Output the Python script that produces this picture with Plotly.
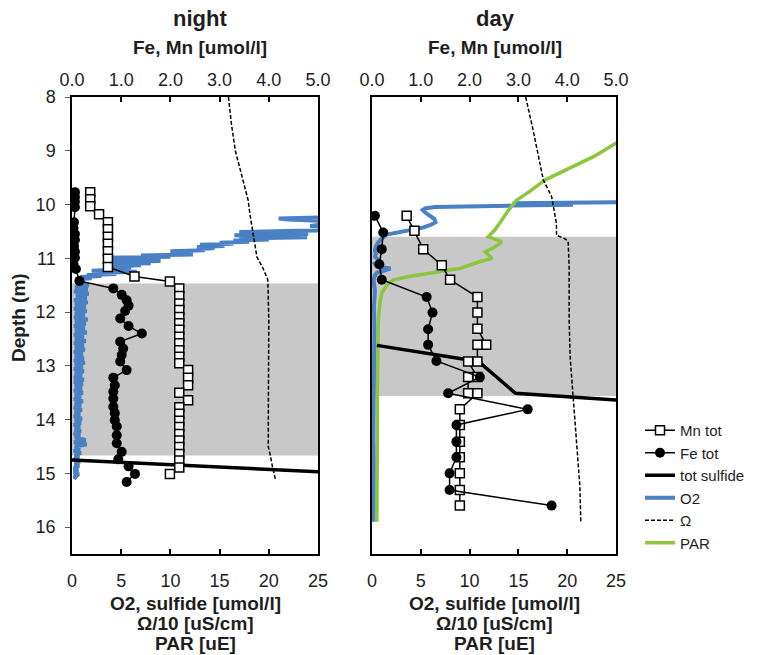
import plotly.graph_objects as go

# ---------------- data ----------------
# Night profile
mn_night_depth = [9.77, 9.90, 10.03, 10.18, 10.33, 10.46, 10.60, 10.73, 10.87, 11.01, 11.16,
                  11.34, 11.43, 11.56, 11.70, 11.84, 11.96, 12.09, 12.21, 12.33, 12.46, 12.58,
                  12.71, 12.83, 12.95, 13.08, 13.22, 13.36, 13.50, 13.64, 13.77, 13.89, 14.02,
                  14.14, 14.27, 14.39, 14.51, 14.64, 14.76, 14.89, 15.01]
mn_night = [0.37, 0.37, 0.37, 0.55, 0.73, 0.73, 0.73, 0.73, 0.73, 0.73, 0.73,
            1.27, 1.99, 2.18, 2.18, 2.18, 2.18, 2.18, 2.18, 2.18, 2.18, 2.18,
            2.18, 2.18, 2.18, 2.36, 2.36, 2.36, 2.18, 2.36, 2.18, 2.18, 2.18,
            2.18, 2.18, 2.18, 2.18, 2.18, 2.18, 2.18, 1.99]

fe_night_depth = [9.77, 9.86, 9.95, 10.05, 10.33, 10.44, 10.55, 10.66, 10.77, 10.88,
                  10.99, 11.10, 11.20, 11.42, 11.56, 11.68, 11.78, 11.88, 11.98, 12.12, 12.26,
                  12.40, 12.55, 12.68, 12.80, 12.92, 13.08, 13.22, 13.36, 13.48, 13.61, 13.76,
                  13.88, 14.01, 14.13, 14.29, 14.44, 14.60, 14.74, 14.87, 15.01, 15.16]
fe_night = [0.06, 0.06, 0.06, 0.06, 0.04, 0.03, 0.06, 0.06, 0.04, 0.06,
            0.06, 0.03, 0.08, 0.15, 0.84, 1.01, 1.11, 1.15, 1.08, 0.98, 1.15,
            1.42, 0.98, 1.04, 1.01, 0.98, 1.11, 0.84, 0.87, 0.84, 0.84, 0.84,
            0.87, 0.87, 0.91, 0.91, 0.91, 1.01, 0.94, 1.15, 1.28, 1.11]

sulfide_night_depth = [14.75, 14.86, 14.98]
sulfide_night = [0.0, 12.0, 26.0]

o2_night_depth = [10.18, 10.24, 10.26, 10.28, 10.30, 10.34, 10.38, 10.40, 10.42, 10.46,
                  10.49, 10.51, 10.53, 10.55, 10.57, 10.59, 10.61, 10.63, 10.65, 10.67,
                  10.69, 10.71, 10.73, 10.75, 10.77, 10.79, 10.81, 10.83, 10.85, 10.87,
                  10.89, 10.91, 10.93, 10.95, 10.97, 10.99, 11.01, 11.03, 11.05, 11.07,
                  11.09, 11.11, 11.13, 11.15, 11.17, 11.19, 11.21, 11.23, 11.25, 11.27,
                  11.29, 11.31, 11.33, 11.35, 11.37, 11.39, 11.41, 11.44, 11.47,
                  11.50, 11.54, 11.58, 11.62, 11.66, 11.70, 11.74, 11.78, 11.82, 11.86,
                  11.90, 11.94, 11.98, 12.02, 12.06, 12.10, 12.14, 12.18, 12.22, 12.26,
                  12.30, 12.34, 12.38, 12.42, 12.46, 12.50, 12.54, 12.58, 12.62, 12.66,
                  12.70, 12.74, 12.78, 12.82, 12.86, 12.90, 12.94, 12.98, 13.02, 13.06,
                  13.10, 13.14, 13.18, 13.22, 13.26, 13.30, 13.34, 13.38, 13.42, 13.46,
                  13.50, 13.54, 13.58, 13.62, 13.66, 13.70, 13.74, 13.78, 13.82, 13.86,
                  13.90, 13.94, 13.98, 14.02, 14.06, 14.10, 14.14, 14.18, 14.22, 14.26,
                  14.30, 14.34, 14.38, 14.42, 14.46, 14.50, 14.54, 14.58, 14.62, 14.66,
                  14.70, 14.74, 14.78, 14.82, 14.86, 14.90, 14.94, 14.98, 15.02, 15.06,
                  15.10]
o2_night = [40.0, 27.0, 21.0, 22.0, 28.0, 30.0, 25.0, 24.2, 27.0, 30.0,
            23.0, 17.0, 22.0, 24.0, 16.5, 21.0, 23.9, 17.0, 20.0, 16.4,
            18.0, 15.0, 16.4, 13.0, 15.5, 12.7, 14.5, 12.7, 13.5, 10.0,
            12.0, 11.0, 12.3, 7.0, 10.0, 3.2, 8.0, 5.0, 9.0, 4.0,
            8.0, 3.5, 7.0, 4.5, 6.0, 3.5, 5.0, 2.0, 6.6, 3.0,
            4.5, 1.5, 3.0, 0.8, 2.0, 0.5, 1.2, 0.4, 1.0,
            1.7, 0.3, 1.6, 0.2, 1.7, 0.4, 1.5, 0.2, 1.6, 0.3,
            1.4, 0.2, 1.5, 0.3, 1.3, 0.2, 1.6, 0.3, 1.4, 0.2,
            1.3, 0.3, 1.5, 0.2, 1.2, 0.3, 1.4, 0.2, 1.2, 0.3,
            1.3, 0.2, 1.1, 0.3, 1.2, 0.2, 1.3, 0.3, 1.1, 0.2,
            1.2, 0.3, 1.0, 0.2, 1.2, 0.2, 1.1, 0.3, 1.0, 0.2,
            1.1, 0.3, 0.9, 0.2, 1.1, 0.3, 0.9, 0.2, 1.0, 0.3,
            0.8, 0.2, 1.0, 0.3, 0.9, 0.2, 0.8, 0.3, 0.9, 0.2,
            0.8, 0.3, 1.4, 0.2, 1.5, 0.3, 0.8, 0.2, 0.9, 0.3,
            0.7, 0.2, 0.8, 0.3, 0.7, 0.2, 0.6, 0.2, 0.7, 0.2,
            0.5]

omega_night_depth = [8.0, 8.5, 9.0, 9.54, 9.92, 10.20, 10.53, 10.98, 11.18, 11.40,
                     12.15, 13.00, 14.00, 14.51, 14.62, 14.90, 15.13]
omega_night = [15.9, 16.2, 16.6, 17.4, 17.9, 18.1, 18.4, 18.8, 19.4, 19.9,
               20.0, 19.95, 19.95, 19.95, 20.1, 20.4, 20.7]

# Day profile
mn_day_depth = [10.21, 10.49, 10.83, 11.13, 11.40, 11.72, 12.01, 12.31, 12.61, 12.61,
                12.92, 12.92, 13.21, 13.21, 13.51, 13.51, 13.81, 14.10, 14.41, 14.70,
                15.00, 15.31, 15.60]
mn_day = [0.71, 0.87, 1.05, 1.43, 1.60, 2.16, 2.16, 2.16, 2.34, 2.16,
          2.16, 1.97, 2.16, 1.97, 1.97, 2.16, 1.80, 1.80, 1.80, 1.80,
          1.80, 1.80, 1.80]

fe_day_depth = [10.21, 10.52, 10.83, 11.11, 11.40, 11.72, 12.01, 12.32, 12.61, 12.91,
                13.21, 13.51, 13.81, 14.10, 14.41, 14.70, 15.00, 15.31, 15.60]
fe_day = [0.06, 0.23, 0.20, 0.15, 0.20, 1.12, 1.24, 1.15, 1.15, 1.32,
          2.21, 1.56, 3.19, 1.73, 1.73, 1.73, 1.59, 1.59, 3.68]

sulfide_day_depth = [12.62, 12.92, 13.51, 13.64]
sulfide_day = [0.5, 10.9, 14.7, 25.5]

o2_day_depth = [9.93, 9.955, 9.965, 9.975, 9.99, 10.005, 10.02, 10.03, 10.045, 10.07,
                10.10, 10.14, 10.20, 10.27, 10.33, 10.38, 10.43, 10.47, 10.50, 10.53,
                10.56, 10.60, 10.65, 10.70, 10.78, 10.85, 10.92, 10.97, 11.02, 11.06,
                11.10, 11.15, 11.19, 11.23, 11.27, 11.32, 11.40, 11.60, 11.90, 12.30,
                12.80, 13.30, 13.80, 14.30, 14.80, 15.30, 15.90]
o2_day = [40.0, 25.5, 20.6, 14.4, 19.0, 20.6, 14.4, 10.0, 6.5, 5.5,
          5.2, 5.4, 5.8, 6.4, 6.5, 6.0, 5.2, 4.0, 3.0, 2.2,
          1.5, 1.2, 0.9, 0.65, 0.4, 0.3, 0.4, 0.3, 0.6, 0.8,
          0.3, 0.5, 1.9, 1.2, 0.5, 0.3, 0.15, 0.3, 0.2, 0.25,
          0.2, 0.15, 0.2, 0.15, 0.2, 0.15, 0.15]

par_day_depth = [8.70, 8.86, 9.10, 9.30, 9.54, 9.75, 9.92, 10.08, 10.23, 10.35,
                 10.47, 10.60, 10.69, 10.75, 10.81, 10.88, 10.94, 11.00, 11.06, 11.12,
                 11.19, 11.23, 11.28, 11.34, 11.40, 11.50, 11.65, 11.85, 12.15, 12.60,
                 13.00, 13.50, 14.00, 14.50, 15.00, 15.50, 15.90]
par_day = [28.0, 25.0, 22.8, 20.5, 17.75, 16.2, 14.8, 14.1, 13.5, 13.0,
           12.6, 11.9, 13.3, 12.9, 12.4, 11.6, 12.0, 12.3, 11.1, 10.0,
           9.0, 7.5, 5.6, 3.8, 2.2, 1.5, 1.0, 0.8, 0.65, 0.6,
           0.6, 0.55, 0.55, 0.55, 0.5, 0.5, 0.5]

omega_day_depth = [8.0, 8.09, 8.61, 9.54, 9.85, 10.35, 10.57, 10.64, 10.69, 11.16,
                   12.15, 12.83, 13.58, 14.57, 15.25, 15.93]
omega_day = [15.75, 15.85, 16.5, 17.55, 18.4, 18.9, 18.9, 19.8, 20.1, 20.2,
             20.2, 20.3, 20.6, 21.0, 21.3, 21.4]

# suboxic (grey) zones: top and bottom depth
zone_night = [11.47, 14.67]
zone_day = [10.60, 13.56]

top_ticks = [0, 1, 2, 3, 4, 5]
bottom_ticks = [0, 5, 10, 15, 20, 25]
depth_ticks = [8, 9, 10, 11, 12, 13, 14, 15, 16]

# ---------------- styling ----------------
W, H = 764, 655
FONT = "Arial, Liberation Sans, Helvetica, sans-serif"
TXT = "#1e1e1e"
BLUE = "#4a80c4"
GREEN = "#8cc63e"
GREY = "#c8c8c8"


def px_x(p):
    return p / W


def px_y(p):
    return 1 - p / H


y_dom = [px_y(554), px_y(97)]
x1_dom = [px_x(72), px_x(318)]
x2_dom = [px_x(372), px_x(616)]

fig = go.Figure()


def add_panel(bx, by, tx, o2d, o2v, sd, sv, od, ov, mnd, mnv, fed, fev,
              pard=None, parv=None, legend=False):
    fig.add_trace(go.Scatter(x=o2v, y=o2d, mode="lines", name="O2",
                             line=dict(color=BLUE, width=4), xaxis=bx, yaxis=by,
                             showlegend=legend, legendrank=4))
    if pard is not None:
        fig.add_trace(go.Scatter(x=parv, y=pard, mode="lines", name="PAR",
                                 line=dict(color=GREEN, width=3.5), xaxis=bx, yaxis=by,
                                 showlegend=legend, legendrank=6))
    fig.add_trace(go.Scatter(x=ov, y=od, mode="lines", name="Ω",
                             line=dict(color="black", width=1.5, dash="4px,2px"),
                             xaxis=bx, yaxis=by, showlegend=legend, legendrank=5))
    fig.add_trace(go.Scatter(x=sv, y=sd, mode="lines", name="tot sulfide",
                             line=dict(color="black", width=3.5), xaxis=bx, yaxis=by,
                             showlegend=legend, legendrank=3))
    fig.add_trace(go.Scatter(x=mnv, y=mnd, mode="lines+markers", name="Mn tot",
                             line=dict(color="black", width=1.5),
                             marker=dict(symbol="square", size=9, color="white",
                                         line=dict(color="black", width=1.5)),
                             xaxis=tx, yaxis=by, showlegend=legend, legendrank=1))
    fig.add_trace(go.Scatter(x=fev, y=fed, mode="lines+markers", name="Fe tot",
                             line=dict(color="black", width=1.5),
                             marker=dict(symbol="circle", size=10, color="black"),
                             xaxis=tx, yaxis=by, showlegend=legend, legendrank=2))


add_panel("x", "y", "x3", o2_night_depth, o2_night, sulfide_night_depth, sulfide_night,
          omega_night_depth, omega_night, mn_night_depth, mn_night, fe_night_depth, fe_night)
add_panel("x2", "y2", "x4", o2_day_depth, o2_day, sulfide_day_depth, sulfide_day,
          omega_day_depth, omega_day, mn_day_depth, mn_day, fe_day_depth, fe_day,
          par_day_depth, par_day, legend=True)

# grey suboxic zone
for xr, yr, zone in (("x domain", "y", zone_night), ("x2 domain", "y2", zone_day)):
    fig.add_shape(type="rect", xref=xr, yref=yr, x0=0, x1=1, y0=zone[0], y1=zone[1],
                  fillcolor=GREY, line=dict(width=0), layer="below")

tick_font = dict(family=FONT, size=18, color=TXT)
bottom_axis = dict(range=[0, 25], tickvals=bottom_ticks, ticks="inside", ticklen=5,
                   tickwidth=1.5, tickcolor="black", showline=True, linecolor="black",
                   linewidth=1.5, mirror=True, showgrid=False, zeroline=False,
                   tickfont=tick_font, ticklabelstandoff=10, automargin=False)
top_axis = dict(range=[0, 5], tickvals=top_ticks, tickformat=".1f", side="top",
                ticks="inside", ticklen=5, tickwidth=1.5, tickcolor="black",
                showline=False, showgrid=False, zeroline=False, tickfont=tick_font,
                ticklabelstandoff=6, automargin=False)

fig.update_layout(
    template="none",
    width=W, height=H, autosize=False,
    margin=dict(l=0, r=0, t=0, b=0, pad=0),
    paper_bgcolor="white", plot_bgcolor="white",
    font=dict(family=FONT, color=TXT),
    xaxis=dict(domain=x1_dom, anchor="y", **bottom_axis),
    xaxis2=dict(domain=x2_dom, anchor="y2", **bottom_axis),
    xaxis3=dict(overlaying="x", anchor="y", **top_axis),
    xaxis4=dict(overlaying="x2", anchor="y2", **top_axis),
    yaxis=dict(domain=y_dom, range=[16.5, 8], tickvals=depth_ticks, ticks="outside",
               ticklen=5, tickwidth=1, tickcolor="#555", showline=True, linecolor="black",
               linewidth=1.5, mirror=True, showgrid=False, zeroline=False,
               tickfont=tick_font, ticklabelstandoff=6, automargin=False),
    yaxis2=dict(domain=y_dom, range=[16.5, 8], anchor="x2", showticklabels=False,
                ticks="", showline=True, linecolor="black", linewidth=1.5, mirror=True,
                showgrid=False, zeroline=False, automargin=False),
    legend=dict(x=px_x(640), y=px_y(414), xanchor="left", yanchor="top",
                font=dict(family=FONT, size=15, color=TXT),
                bgcolor="rgba(0,0,0,0)", borderwidth=0, tracegroupgap=0,
                traceorder="normal"),
    showlegend=True,
)


def label(text, xp, yp, size=19, bold=True, angle=0):
    fig.add_annotation(text=f"<b>{text}</b>" if bold else text, x=px_x(xp), y=px_y(yp),
                       xref="paper", yref="paper", showarrow=False, textangle=angle,
                       font=dict(family=FONT, size=size, color=TXT),
                       xanchor="center", yanchor="middle")


label("night", 200, 18, size=22)
label("day", 495, 18, size=22)
label("Fe, Mn [umol/l]", 200, 47)
label("Fe, Mn [umol/l]", 495, 47)
for cx in (195, 494):
    label("O2, sulfide [umol/l]", cx, 603)
    label("Ω/10 [uS/cm]", cx, 623)
    label("PAR [uE]", cx, 643)
label("Depth (m)", 18, 318, angle=-90)

fig.write_html("out.html")
